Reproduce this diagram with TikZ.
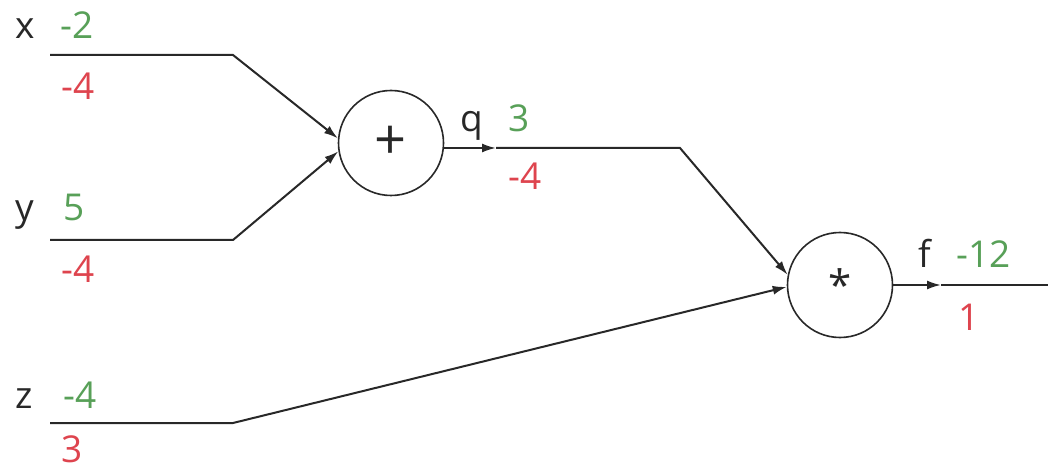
\documentclass[tikz,border=0pt]{standalone}
\usepackage{fontspec}
\setmainfont{Open Sans}
\usetikzlibrary{arrows.meta}
\definecolor{gval}{RGB}{88,160,88}
\definecolor{rval}{RGB}{222,68,78}
\definecolor{ink}{RGB}{40,40,40}
\tikzset{
  wire/.style={draw=ink, line width=2pt},
  tip/.style={-{Latex[length=14pt,width=9pt]}},
  gate/.style={circle, draw=ink, line width=1.6pt, minimum size=105pt, inner sep=0pt, text=ink},
  lbl/.style={anchor=base west, inner sep=0pt, font=\fontsize{37}{40}\selectfont},
  var/.style={lbl, text=ink},
  fwd/.style={lbl, text=gval},
  bwd/.style={lbl, text=rval},
}
\begin{document}
\begin{tikzpicture}[x=1pt, y=-1pt]
\useasboundingbox (0,0) rectangle (1054,470);
\node[gate, font=\fontsize{56}{58}\selectfont] (plus) at (391,143) {\raisebox{-2pt}{+}};
\node[gate, font=\fontsize{42}{44}\selectfont] (star) at (840,285) {\raisebox{-11pt}{*}};
\coordinate (xa) at (50,55);  \coordinate (xb) at (233,55);
\coordinate (ya) at (50,240); \coordinate (yb) at (233,240);
\coordinate (za) at (50,423); \coordinate (zb) at (233,423);
\coordinate (qm) at (496,148); \coordinate (qb) at (680,148);
\coordinate (fm) at (941,285); \coordinate (fe) at (1048,285);
\draw[wire, tip] (xa) -- (xb) -- (plus.175);
\draw[wire, tip] (ya) -- (yb) -- (plus.189);
\draw[wire, tip] (plus.east |- qm) -- (qm);
\draw[wire, tip] (qm) -- (qb) -- (star.169);
\draw[wire, tip] (za) -- (zb) -- (star.182);
\draw[wire, tip] (star.east) -- (fm);
\draw[wire] (fm) -- (fe);
\node[var] (xl) at (15,39) {x};
\node[fwd] (xv) at (60,39) {-2};
\node[bwd] (xg) at (61,100) {-4};
\node[var] (yl) at (15,221) {y};
\node[fwd] (yv) at (63,221) {5};
\node[bwd] (yg) at (61,283) {-4};
\node[var] (zl) at (15,408) {z};
\node[fwd] (zv) at (63,408) {-4};
\node[bwd] (zg) at (61,462) {3};
\node[var] (ql) at (460,132) {q};
\node[fwd] (qv) at (508,132) {3};
\node[bwd] (qg) at (508,190) {-4};
\node[var] (fl) at (918,268) {f};
\node[fwd] (fv) at (956,268) {-12};
\node[bwd] (fg) at (958,330) {1};
\end{tikzpicture}
\end{document}
